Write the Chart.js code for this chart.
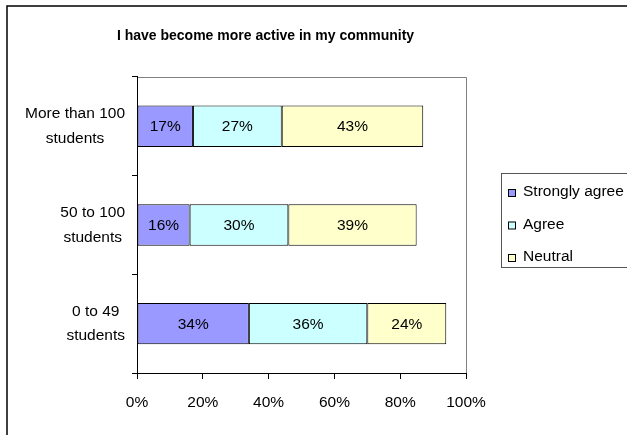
<!DOCTYPE html>
<html>
<head>
<meta charset="utf-8">
<title>I have become more active in my community</title>
<script src="https://cdn.jsdelivr.net/npm/chart.js@4.4.1/dist/chart.umd.min.js"></script>
<style>
  html, body { margin: 0; padding: 0; background: #fff; }
  #wrap { width: 627px; height: 435px; }
</style>
</head>
<body>
<div id="wrap"><canvas id="activeChart" width="627" height="435"></canvas></div>
<script>
// survey groups (top to bottom) and answer shares in percent
const groups = [["More than 100", "students"], ["50 to 100", "students"], ["0 to 49", "students"]];
const seriesNames = ["Strongly agree", "Agree", "Neutral"];
const stronglyAgree = [17, 16, 34];
const agree = [27, 30, 36];
const neutral = [43, 39, 24];
const xTicks = [0, 20, 40, 60, 80, 100];
const fills = ["#9999FF", "#CCFFFF", "#FFFFCC"];

const FONT = "'Liberation Sans', Arial, sans-serif";
const TEXT_SIZE = 15.5;
Chart.defaults.font.family = FONT;
Chart.defaults.color = "#000";

// white page with the black frame on the left and top edges, grey box around the plot
const frame = {
    id: "frame",
    beforeDraw(chart) {
        const ctx = chart.ctx;
        ctx.save();
        ctx.fillStyle = "#fff";
        ctx.fillRect(0, 0, chart.width, chart.height);
        ctx.strokeStyle = "#000";
        ctx.lineWidth = 1.5;
        ctx.beginPath();
        ctx.moveTo(7, chart.height);
        ctx.lineTo(7, 6);
        ctx.lineTo(chart.width, 6);
        ctx.stroke();
        ctx.restore();
    },
    afterDraw(chart) {
        const a = chart.chartArea;
        const ctx = chart.ctx;
        ctx.save();
        ctx.strokeStyle = "#808080";
        ctx.lineWidth = 1;
        ctx.beginPath();
        ctx.moveTo(Math.round(a.left) + 1, Math.round(a.top) + 0.5);
        ctx.lineTo(Math.round(a.right) + 0.5, Math.round(a.top) + 0.5);
        ctx.lineTo(Math.round(a.right) + 0.5, Math.round(a.bottom));
        ctx.stroke();
        ctx.restore();
    }
};

// group names: each block right-aligned to the axis, its lines centred on each other
const groupLabels = {
    id: "groupLabels",
    afterDraw(chart) {
        const scale = chart.scales.y;
        const ctx = chart.ctx;
        const lineH = TEXT_SIZE * 1.6;
        ctx.save();
        ctx.font = TEXT_SIZE + "px " + FONT;
        ctx.fillStyle = "#000";
        ctx.textAlign = "center";
        ctx.textBaseline = "middle";
        chart.data.labels.forEach((lines, i) => {
            const w = Math.max(...lines.map(t => ctx.measureText(t).width));
            const cx = scale.right - 5 - 7 - w / 2;
            const cy = scale.getPixelForTick(i);
            lines.forEach((t, k) => {
                ctx.fillText(t, cx, cy + (k - (lines.length - 1) / 2) * lineH);
            });
        });
        ctx.restore();
    }
};

// percentage text in the middle of every segment
const barLabels = {
    id: "barLabels",
    afterDatasetsDraw(chart) {
        const ctx = chart.ctx;
        ctx.save();
        ctx.font = TEXT_SIZE + "px " + FONT;
        ctx.fillStyle = "#000";
        ctx.textAlign = "center";
        ctx.textBaseline = "middle";
        chart.data.datasets.forEach((ds, i) => {
            chart.getDatasetMeta(i).data.forEach((bar, j) => {
                const p = bar.getCenterPoint();
                ctx.fillText(ds.data[j] + "%", p.x, p.y + 1);
            });
        });
        ctx.restore();
    }
};

// boxed legend to the right of the plot
const sideLegend = {
    id: "sideLegend",
    afterDraw(chart) {
        const ctx = chart.ctx;
        ctx.save();
        ctx.strokeStyle = "#555";
        ctx.lineWidth = 1;
        ctx.strokeRect(501.5, 173.5, 140, 94);
        ctx.font = TEXT_SIZE + "px " + FONT;
        ctx.textBaseline = "middle";
        chart.data.datasets.forEach((ds, i) => {
            const y = 192 + i * 32.5;
            ctx.fillStyle = ds.backgroundColor;
            ctx.fillRect(508, y - 3, 7, 7);
            ctx.strokeStyle = "#000";
            ctx.strokeRect(508.5, y - 2.5, 7, 7);
            ctx.fillStyle = "#000";
            ctx.fillText(ds.label, 523, y);
        });
        ctx.restore();
    }
};

const seriesData = [stronglyAgree, agree, neutral];

new Chart(document.getElementById("activeChart"), {
    type: "bar",
    data: {
        labels: groups,
        datasets: seriesNames.map((name, i) => ({
            label: name,
            data: seriesData[i],
            backgroundColor: fills[i],
            borderColor: "#000",
            borderWidth: 1,
            borderSkipped: false,
            barPercentage: 0.42,
            categoryPercentage: 1
        }))
    },
    options: {
        indexAxis: "y",
        responsive: false,
        animation: false,
        layout: { padding: { left: 0, right: 96, top: 0, bottom: 0 } },
        plugins: {
            legend: { display: false },
            tooltip: { enabled: false },
            title: {
                display: true,
                text: "I have become more active in my community",
                color: "#000",
                font: { size: 14, weight: "bold", lineHeight: 1.2 },
                padding: { top: 28, bottom: 32 }
            }
        },
        scales: {
            x: {
                stacked: true,
                min: 0,
                max: 100,
                afterBuildTicks: s => { s.ticks = xTicks.map(v => ({ value: v })); },
                afterFit: s => { s.height = 62; },
                grid: { drawOnChartArea: false, tickLength: 6, color: "#000" },
                border: { color: "#000", width: 1 },
                ticks: {
                    padding: 14,
                    color: "#000",
                    font: { size: TEXT_SIZE },
                    callback: v => v + "%"
                }
            },
            y: {
                stacked: true,
                afterFit: s => { s.width = 137; },
                grid: { offset: true, drawOnChartArea: false, tickLength: 5, color: "#000" },
                border: { color: "#000", width: 1 },
                // names are drawn by groupLabels
                ticks: { display: false }
            },
            // empty strip between the plot and the legend
            yPad: {
                type: "category",
                position: "right",
                afterFit: s => { s.width = 65; },
                grid: { display: false },
                border: { display: false },
                ticks: { display: false }
            }
        }
    },
    plugins: [frame, groupLabels, barLabels, sideLegend]
});
</script>
</body>
</html>
